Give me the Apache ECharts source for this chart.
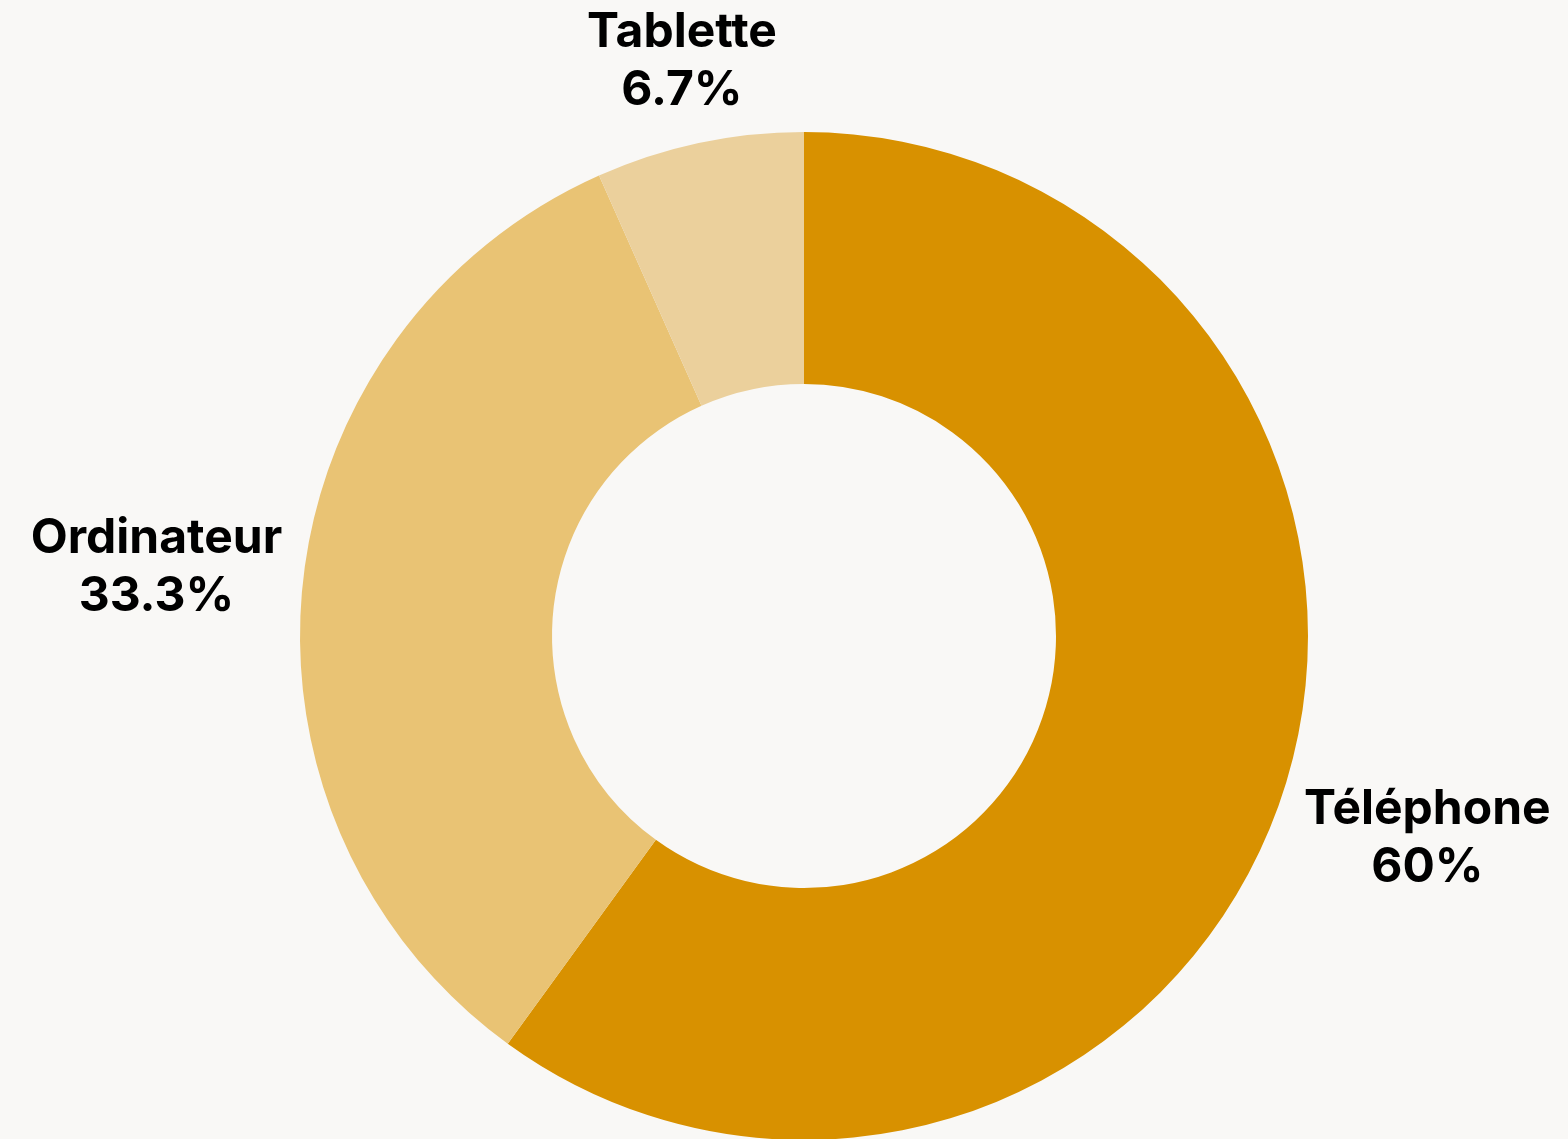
<!DOCTYPE html>
<html><head><meta charset="utf-8">
<script src="https://cdn.jsdelivr.net/npm/echarts@6/dist/echarts.min.js"></script>
<style>html,body{margin:0;padding:0;background:#f9f8f6}#c{width:1568px;height:1139px}</style>
</head><body><div id="c"></div>
<script>
const categories = ['Téléphone', 'Ordinateur', 'Tablette'];
const values = [9, 5, 1];
const colors = ['#d89100', '#e9c374', '#ebd09c'];

const CX = 804, CY = 636, R0 = 252, R = 504, GAP = 18;
const total = values.reduce((a, b) => a + b, 0);
const midAngles = [];
let acc = 0;
values.forEach(v => { midAngles.push((acc + v / 2) / total * 2 * Math.PI); acc += v; });

function place(i, w, h) {
  const a = midAngles[i];
  const ux = Math.sin(a), uy = -Math.cos(a);
  const hw = w / 2, hh = h / 2;
  let lo = 0, hi = 3000;
  for (let k = 0; k < 60; k++) {
    const m = (lo + hi) / 2;
    const bx = m * ux, by = m * uy;
    const dx = Math.max(Math.abs(bx) - hw, 0), dy = Math.max(Math.abs(by) - hh, 0);
    if (Math.hypot(dx, dy) < R + GAP) lo = m; else hi = m;
  }
  return [CX + lo * ux, CY + lo * uy];
}

const chart = echarts.init(document.getElementById('c'), null, { renderer: 'canvas' });
chart.setOption({
  backgroundColor: '#f9f8f6',
  animation: false,
  series: [{
    type: 'pie',
    center: [CX, CY],
    radius: [R0, R],
    startAngle: 90,
    clockwise: true,
    percentPrecision: 1,
    avoidLabelOverlap: false,
    emphasis: { disabled: true },
    itemStyle: { borderWidth: 0 },
    labelLine: { show: false },
    label: {
      show: true,
      position: 'outside',
      formatter: p => '{a|' + p.name + '}\n{a|' + p.percent + '%}',
      rich: {
        a: { align: 'center', fontFamily: 'Inter', fontWeight: 'bold', fontSize: 48, lineHeight: 58, color: '#000' }
      }
    },
    labelLayout: function (params) {
      const r = params.labelRect;
      const pos = place(params.dataIndex, r.width, r.height);
      return { x: pos[0], y: pos[1], align: 'center', verticalAlign: 'middle' };
    },
    data: categories.map((c, i) => ({ name: c, value: values[i], itemStyle: { color: colors[i] } }))
  }]
});
</script>
</body></html>
